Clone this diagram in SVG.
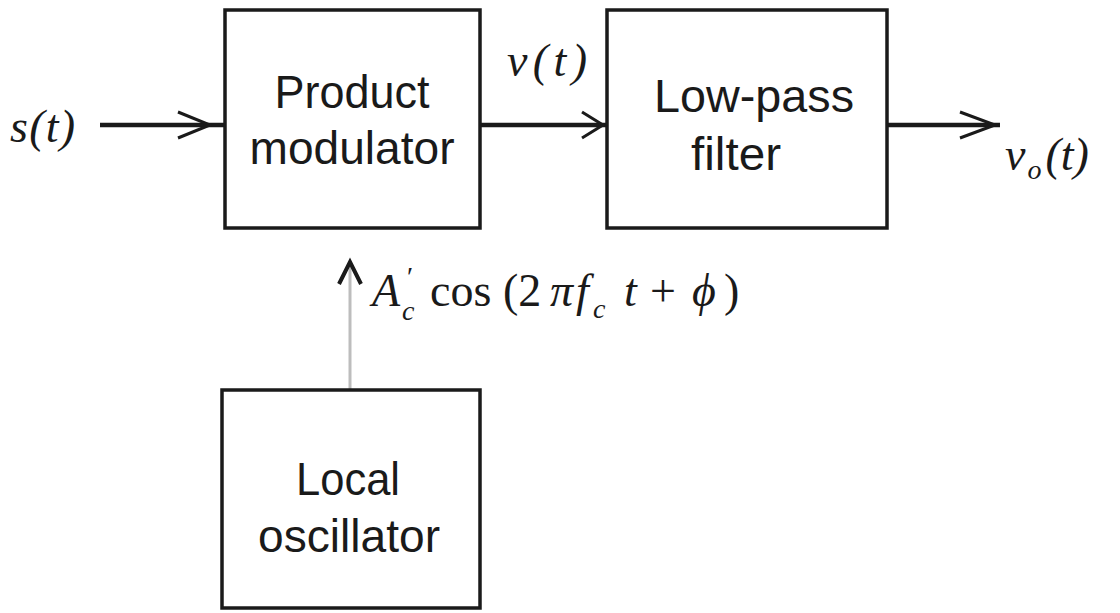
<svg xmlns="http://www.w3.org/2000/svg" width="1120" height="613" viewBox="0 0 1120 613">
<style>
.box{fill:#fff;stroke:#1a1a1a;stroke-width:3.5}
.lbl{font-family:"Liberation Sans",Arial,sans-serif;font-size:47px;fill:#1a1a1a;text-anchor:middle}
.math{font-family:"Liberation Serif","Times New Roman",serif;font-style:italic;fill:#1a1a1a;font-size:46px}
.up{font-style:normal}
.sub{font-size:28px}
.wire{stroke:#1a1a1a;stroke-width:4.5;fill:none}
.head{stroke:#1a1a1a;stroke-width:3;fill:none}
</style>
<rect width="1120" height="613" fill="#fff"/>
<g id="connectors">
  <line class="wire" x1="100" y1="125" x2="225" y2="125"/>
  <polyline class="head" points="178,112 210,125 178,138"/>
  <line class="wire" x1="480" y1="125" x2="607" y2="125"/>
  <polyline class="head" points="582,112 603,125 582,138"/>
  <line class="wire" x1="887" y1="125" x2="1000" y2="125"/>
  <polyline class="head" points="960,112 995,125 960,138"/>
  <line x1="350" y1="390" x2="350" y2="265" stroke="#bdbdbd" stroke-width="3"/>
  <polyline points="339,284 350,262 361,284" fill="none" stroke="#1a1a1a" stroke-width="4"/>
</g>
<g id="product-modulator">
  <rect class="box" x="225" y="10" width="255" height="218"/>
  <text class="lbl" x="352" y="108" textLength="155" lengthAdjust="spacingAndGlyphs">Product</text>
  <text class="lbl" x="352" y="164" textLength="205" lengthAdjust="spacingAndGlyphs">modulator</text>
</g>
<g id="low-pass-filter">
  <rect class="box" x="607" y="10" width="280" height="218"/>
  <text class="lbl" x="754" y="112" textLength="200" lengthAdjust="spacingAndGlyphs">Low-pass</text>
  <text class="lbl" x="736" y="170" textLength="90" lengthAdjust="spacingAndGlyphs">filter</text>
</g>
<g id="local-oscillator">
  <rect class="box" x="222" y="390" width="258" height="218"/>
  <text class="lbl" x="348" y="495" textLength="104" lengthAdjust="spacingAndGlyphs">Local</text>
  <text class="lbl" x="349" y="552" textLength="182" lengthAdjust="spacingAndGlyphs">oscillator</text>
</g>
<g id="labels">
  <text class="math" x="10" y="142" textLength="65" lengthAdjust="spacing">s(t)</text>
  <text class="math" x="507" y="76" textLength="80" lengthAdjust="spacing">v(t)</text>
  <text class="math" x="1005" y="170">v<tspan class="sub" dx="2" dy="9">o</tspan><tspan dx="4" dy="-9">(t)</tspan></text>
  <text class="math" y="306">
    <tspan x="372">A</tspan>
    <tspan class="sub up" x="407" y="286">′</tspan>
    <tspan class="sub" x="402" y="320">c</tspan>
    <tspan class="up" x="430" y="306">cos</tspan>
    <tspan class="up" x="503" y="306">(2</tspan>
    <tspan x="550" y="306">π</tspan>
    <tspan x="576" y="306">f</tspan>
    <tspan class="sub" x="593" y="318">c</tspan>
    <tspan x="624" y="306">t</tspan>
    <tspan class="up" x="650" y="306">+</tspan>
    <tspan x="692" y="306">ϕ</tspan>
    <tspan class="up" x="724" y="306">)</tspan>
  </text>
</g>
</svg>
